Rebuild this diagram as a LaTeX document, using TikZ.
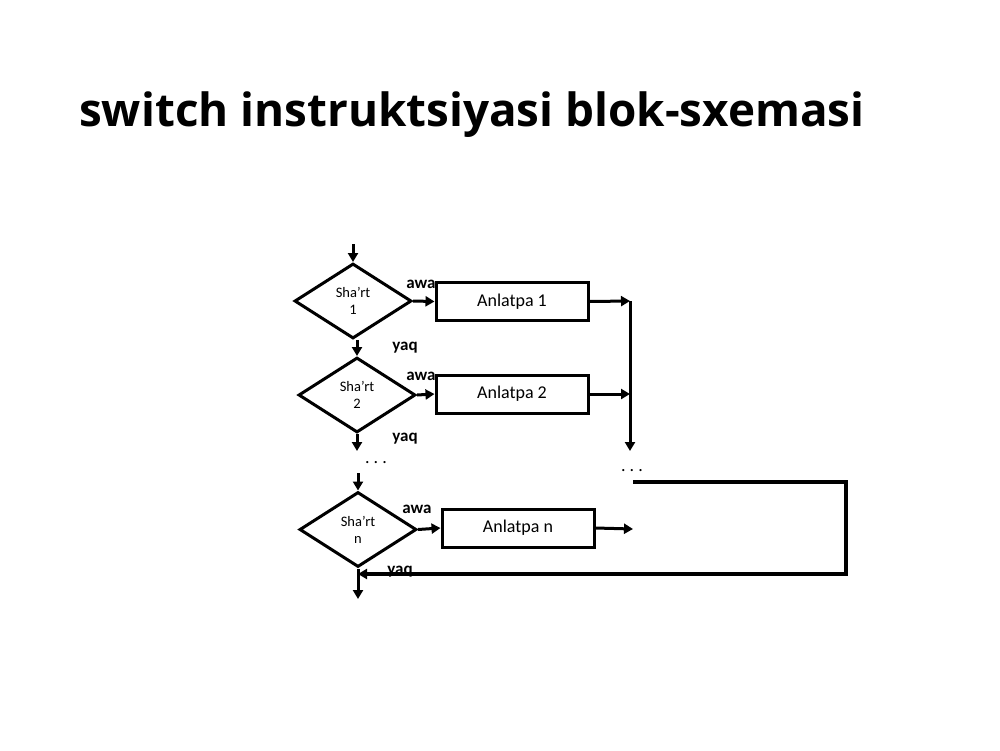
\documentclass[tikz,border=0pt]{standalone}
\usepackage{fontspec}
\setmainfont{Carlito}
\newfontfamily\titlefont{Open Sans}
\usetikzlibrary{shapes.geometric,arrows.meta}
\begin{document}
\begin{tikzpicture}[x=1pt,y=-1pt,
  conn/.style={line width=3pt,-{Triangle[length=9pt,width=10pt]}},
  plainline/.style={line width=3.4pt},
  cond/.style={diamond,draw,line width=3pt,minimum width=117pt,minimum height=75pt,inner sep=0pt,
    align=center,font=\fontsize{14.5}{17}\selectfont},
  stepbox/.style={rectangle,draw,line width=3pt,minimum width=152pt,minimum height=38pt,inner sep=0pt,
    font=\fontsize{18}{20}\selectfont},
  lbl/.style={font=\bfseries\fontsize{17}{18}\selectfont,anchor=base,inner sep=0pt},
  dots/.style={font=\fontsize{18}{18}\selectfont,inner sep=0pt}]
\useasboundingbox (0,0) rectangle (1000,750);
\fill[white] (0,0) rectangle (1000,750);

\node[anchor=base west,inner sep=0pt,font=\titlefont\bfseries\fontsize{45.8}{50}\selectfont] (title) at (79,126) {switch instruktsiyasi blok-sxemasi};

% conditions
\node[cond] (d1) at (353,301) {Sha’rt\\1};
\node[cond] (d2) at (357,395) {Sha’rt\\2};
\node[cond] (dn) at (358,529.5) {Sha’rt\\n};

% boxes
\node[stepbox] (b1) at (512,301.5) {Anlatpa 1};
\node[stepbox] (b2) at (512,394) {Anlatpa 2};
\node[stepbox] (bn) at (518,528) {Anlatpa n};

% labels
\node[lbl] (a1) at (421,288) {awa};
\node[lbl] (a2) at (421,380) {awa};
\node[lbl] (an) at (417,513) {awa};
\node[lbl] (y1) at (405,350) {yaq};
\node[lbl] (y2) at (405,441) {yaq};
\node[lbl] (yn) at (400,574) {yaq};

\node[dots] (dl) at (376,463) {.\kern4pt.\kern4pt.};
\node[dots] (dr) at (632,471) {.\kern4pt.\kern4pt.};

% coordinates
\coordinate (in) at (353,244);
\coordinate (j1) at (630,301);
\coordinate (j2) at (630,394);
\coordinate (vend) at (630,451);
\coordinate (d2out) at (357,451);
\coordinate (dnin) at (358,473);
\coordinate (jn) at (633,529);
\coordinate (r0) at (633,482);
\coordinate (r1) at (846,482);
\coordinate (r2) at (846,574);
\coordinate (r3) at (358,574);
\coordinate (out) at (358,599);

% connectors
\draw[conn] (in) -- (d1.north);
\draw[conn] (d1.east) -- (b1.west);
\draw[conn] (b1.east) -- (j1);
\draw[conn] (j1) -- (vend);
\draw[conn] (b2.east) -- (j2);
\draw[conn] (d2.north |- d1.south) -- (d2.north);
\draw[conn] (d2.east) -- (b2.west);
\draw[conn] (d2.south) -- (d2out);
\draw[conn] (dnin) -- (dn.north);
\draw[conn] (dn.east) -- (bn.west);
\draw[conn] (bn.east) -- (jn);
\draw[plainline,-{Triangle[length=9pt,width=10pt]}] (r0) -- (r1) -- (r2) -- (r3);
\draw[conn] (dn.south) -- (out);
\end{tikzpicture}
\end{document}
